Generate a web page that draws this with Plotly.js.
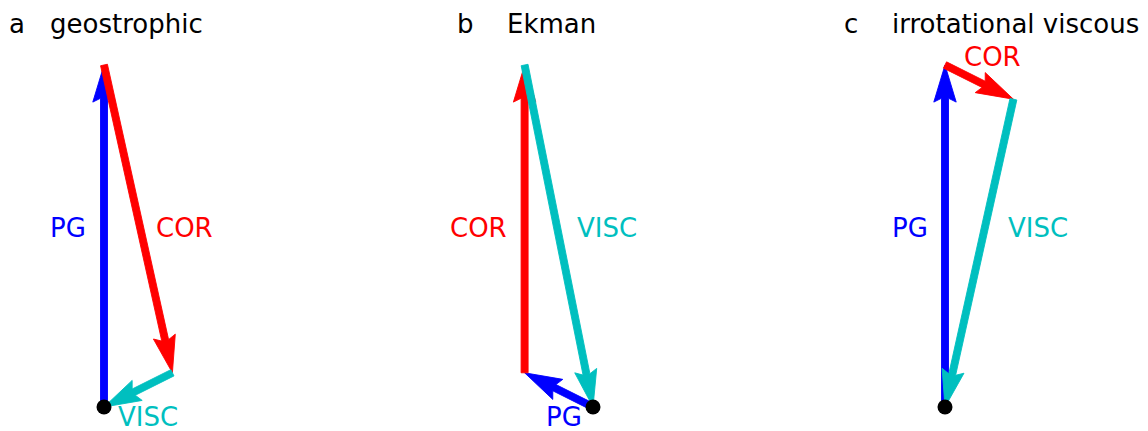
<!DOCTYPE html>
<html><head><meta charset="utf-8">
<script src="https://cdn.plot.ly/plotly-3.0.1.min.js"></script>
<style>html,body{margin:0;padding:0;background:#fff}</style></head>
<body><div id="chart" style="width:1148px;height:431px"></div>
<script>
// ---- data ----
const panelLetters = ['a', 'b', 'c'];
const panelTitles = ['geostrophic', 'Ekman', 'irrotational viscous'];
const forceNames = ['PG', 'COR', 'VISC'];
const forceColors = ['#0000ff', '#ff0000', '#00bfbf'];
// force vectors (u, v) per panel a, b, c
const pgU   = [0.0, -0.2, 0.0];
const pgV   = [1.0,  0.1, 1.0];
const corU  = [0.2,  0.0, 0.2];
const corV  = [-0.9, 0.9, -0.1];
const viscU = [-0.2, 0.2, -0.2];
const viscV = [-0.1, -1.0, -0.9];

// ---- geometry / style ----
const W = 1148, H = 431;
const S = 342;              // pixels per unit (equal aspect)
const originPx = [104, 593, 945];
const originPy = 407;
const panelEdges = [0, 383, 766, 1148];
const shaft = 7.0 / S;      // shaft width in data units
const headWidth = 3.2, headLength = 5.3, headAxisLength = 4.75; // in shaft widths

const traces = [];
const axes = {};
const yRange = [-(H - originPy) / S, originPy / S];

function quiverPoly(x0, y0, u, v) {
  const L = Math.hypot(u, v);
  const ux = u / L, uy = v / L, nx = -uy, ny = ux;
  const l = L / shaft;
  const pts = [[0, 0.5], [l - headAxisLength, 0.5], [l - headLength, headWidth / 2], [l, 0],
               [l - headLength, -headWidth / 2], [l - headAxisLength, -0.5], [0, -0.5], [0, 0.5]];
  const xs = [], ys = [];
  pts.forEach(p => {
    const a = p[0] * shaft, b = p[1] * shaft;
    xs.push(x0 + a * ux + b * nx);
    ys.push(y0 + a * uy + b * ny);
  });
  return {xs, ys};
}

for (let i = 0; i < 3; i++) {
  const xa = i === 0 ? 'x' : 'x' + (i + 1);
  const axName = i === 0 ? 'xaxis' : 'xaxis' + (i + 1);
  axes[axName] = {
    domain: [panelEdges[i] / W, panelEdges[i + 1] / W],
    range: [(panelEdges[i] - originPx[i]) / S, (panelEdges[i + 1] - originPx[i]) / S],
    visible: false, fixedrange: true
  };
  const vecs = [[pgU[i], pgV[i]], [corU[i], corV[i]], [viscU[i], viscV[i]]];
  let cx = 0, cy = 0;
  vecs.forEach((vec, k) => {
    const p = quiverPoly(cx, cy, vec[0], vec[1]);
    traces.push({
      type: 'scatter', mode: 'lines', x: p.xs, y: p.ys, xaxis: xa, yaxis: 'y',
      fill: 'toself', fillcolor: forceColors[k],
      line: {color: forceColors[k], width: 0.9}, hoverinfo: 'skip', name: forceNames[k]
    });
    cx += vec[0]; cy += vec[1];
  });
  traces.push({
    type: 'scatter', mode: 'markers', x: [0], y: [0], xaxis: xa, yaxis: 'y',
    marker: {color: '#000000', size: 15}, hoverinfo: 'skip'
  });
}

// annotation helpers (pixel positions)
const FONT = 'DejaVu Sans, sans-serif';
const FS = 26;
function ann(text, px, pyc, color, anchor) {
  return {
    text: text, xref: 'paper', yref: 'paper', x: px / W, y: 1 - pyc / H,
    xanchor: anchor || 'left', yanchor: 'middle', showarrow: false,
    font: {family: FONT, size: FS, color: color}, borderpad: 0
  };
}
const annotations = [
  ann(panelLetters[0], 8, 23.5, '#000'), ann(panelTitles[0], 48.5, 23.5, '#000'),
  ann(panelLetters[1], 455.5, 23.5, '#000'), ann(panelTitles[1], 506, 23.5, '#000'),
  ann(panelLetters[2], 842.5, 23.5, '#000'), ann(panelTitles[2], 890.5, 23.5, '#000'),
  // panel a labels
  ann(forceNames[0], 48.5, 228, forceColors[0]),
  ann(forceNames[1], 154.5, 228, forceColors[1]),
  ann(forceNames[2], 117, 416.5, forceColors[2]),
  // panel b labels
  ann(forceNames[1], 449.5, 228, forceColors[1]),
  ann(forceNames[2], 576, 228, forceColors[2]),
  ann(forceNames[0], 544.5, 416.5, forceColors[0]),
  // panel c labels
  ann(forceNames[0], 890.5, 228, forceColors[0]),
  ann(forceNames[2], 1007, 228, forceColors[2]),
  ann(forceNames[1], 962.5, 57.5, forceColors[1])
];

const layout = Object.assign({
  width: W, height: H, margin: {l: 0, r: 0, t: 0, b: 0},
  paper_bgcolor: '#ffffff', plot_bgcolor: '#ffffff', showlegend: false,
  yaxis: {domain: [0, 1], range: yRange, visible: false, fixedrange: true},
  annotations: annotations
}, axes);

Plotly.newPlot('chart', traces, layout, {staticPlot: true, displayModeBar: false});
</script></body></html>
